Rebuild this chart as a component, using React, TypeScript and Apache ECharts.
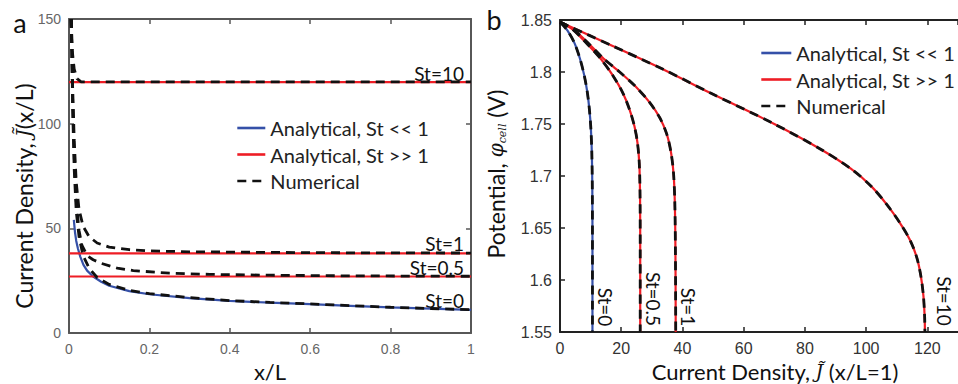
import React, { useEffect, useRef } from "react";
import * as echarts from "echarts";

// ---------- Legend ----------
const NAME_BLUE = "Analytical, St << 1";
const NAME_RED = "Analytical, St >> 1";
const NAME_NUM = "Numerical";

// ---------- Panel a : J(x/L) vs x/L ----------
const A_ST10_RED: number[][] = [[0, 119.8], [1, 119.8]];
const A_ST1_RED: number[][] = [[0, 38], [1, 38]];
const A_ST05_RED: number[][] = [[0, 27], [1, 27]];
const A_ST0_BLUE: number[][] = [
  [0.012, 54], [0.015, 48], [0.018, 44], [0.022, 40.5], [0.028, 36.5], [0.036, 32.5],
  [0.045, 29.8], [0.06, 27], [0.08, 24.5], [0.1, 22.6], [0.15, 20], [0.2, 18.5],
  [0.3, 16.7], [0.4, 15.3], [0.5, 14.5], [0.6, 13.8], [0.7, 13], [0.8, 12.2],
  [0.9, 11.6], [1, 11],
];
const A_ST10_NUM: number[][] = [
  [0.004, 150], [0.008, 135], [0.013, 126], [0.02, 121.5], [0.03, 120], [1, 120],
];
const A_ST1_NUM: number[][] = [
  [0.006, 150], [0.009, 118], [0.013, 92], [0.018, 72], [0.025, 59], [0.035, 51],
  [0.05, 46], [0.07, 43], [0.1, 41], [0.15, 39.8], [0.2, 39.2], [0.3, 38.8],
  [0.5, 38.5], [0.7, 38.3], [1, 38.2],
];
const A_ST05_NUM: number[][] = [
  [0.006, 150], [0.009, 112], [0.013, 84], [0.018, 63], [0.025, 49], [0.032, 42],
  [0.045, 37], [0.06, 35], [0.08, 33.3], [0.12, 31], [0.16, 29.8], [0.25, 28.6],
  [0.35, 28], [0.5, 27.6], [0.7, 27.3], [1, 27.1],
];
const A_ST0_NUM: number[][] = [
  [0.006, 150], [0.009, 108], [0.013, 78], [0.018, 58], [0.025, 46], [0.035, 37],
  [0.05, 31], [0.07, 26.5], [0.1, 23.2], [0.15, 20.4], [0.2, 18.8], [0.3, 16.9],
  [0.4, 15.5], [0.5, 14.6], [0.6, 13.9], [0.7, 13.1], [0.8, 12.3], [0.9, 11.7], [1, 11.1],
];

// ---------- Panel b : potential vs J(x/L=1) ----------
const B_ST0_BLUE: number[][] = [
  [0, 1.848], [2.4, 1.84], [4.7, 1.828], [6.5, 1.813], [7.9, 1.797], [8.9, 1.781],
  [9.6, 1.764], [10.1, 1.745], [10.4, 1.722], [10.55, 1.69], [10.6, 1.64], [10.6, 1.55],
];
const B_ST05_RED: number[][] = [
  [0, 1.848], [3.7, 1.842], [8.9, 1.827], [13.5, 1.812], [17.4, 1.796], [20.5, 1.78],
  [22.7, 1.764], [24.3, 1.748], [25.3, 1.732], [25.9, 1.712], [26.15, 1.68], [26.2, 1.63], [26.2, 1.55],
];
const B_ST1_RED: number[][] = [
  [0, 1.848], [4.7, 1.84], [9.5, 1.827], [14.2, 1.813], [19.5, 1.8], [24.7, 1.786],
  [29.2, 1.771], [32.6, 1.756], [34.9, 1.74], [36.3, 1.722], [37.1, 1.702], [37.5, 1.675],
  [37.7, 1.63], [37.8, 1.55],
];
const B_ST10_RED: number[][] = [
  [0, 1.848], [17.2, 1.825], [34.1, 1.802], [49, 1.78], [70, 1.75], [85, 1.726],
  [95, 1.707], [101.7, 1.69], [106.9, 1.672], [111, 1.655], [114.4, 1.638],
  [116.5, 1.622], [117.8, 1.605], [118.7, 1.585], [119.1, 1.565], [119.2, 1.55],
];
const B_ST0_NUM = B_ST0_BLUE;
const B_ST05_NUM = B_ST05_RED;
const B_ST1_NUM = B_ST1_RED;
const B_ST10_NUM = B_ST10_RED;

const BLUE = "#3550a8";
const RED = "#ee1d25";
const BLACK = "#111111";
const TXT_FONT = "Lato";
const TICK_FONT = "Liberation Sans";

export default function App() {
  const ref = useRef<HTMLDivElement>(null);

  useEffect(() => {
    if (!ref.current) return;
    const chart = echarts.init(ref.current, undefined, { renderer: "svg" });

    const lineS = (name: string, data: number[][], color: string, xi: number, yi: number, z: number, dashed = false, smooth: number | boolean = false) => ({
      type: "line",
      name,
      data,
      xAxisIndex: xi,
      yAxisIndex: yi,
      symbol: "none",
      showSymbol: false,
      silent: true,
      smooth,
      z,
      clip: true,
      lineStyle: dashed
        ? { color, width: 2.8, type: [9, 6] }
        : { color, width: 2.2 },
      itemStyle: { color },
    });

    const axisCommon = (color: string) => ({
      axisLine: { show: true, onZero: false, lineStyle: { color, width: 2 } },
      axisTick: { show: true, inside: true, length: 5, lineStyle: { color, width: 1.5 } },
      splitLine: { show: false },
    });

    const fmt2 = (v: number) => String(Math.round(v * 100) / 100);

    const legendCommon = {
      orient: "vertical",
      padding: 0,
      itemWidth: 28,
      itemHeight: 20,
      itemGap: 6.5,
      selectedMode: false,
      data: [NAME_BLUE, NAME_RED, NAME_NUM],
      itemStyle: { opacity: 0, borderWidth: 0 },
      lineStyle: { width: 2.6 },
      textStyle: { fontSize: 20, fontFamily: TXT_FONT, color: "#222", lineHeight: 20 },
    };

    const option: any = {
      animation: false,
      backgroundColor: "#ffffff",
      grid: [
        { left: 69, top: 19, width: 402, height: 314 },
        { left: 560, top: 20, width: 411, height: 312 },
      ],
      xAxis: [
        {
          type: "value", gridIndex: 0, min: 0, max: 1, interval: 0.2, position: "bottom",
          ...axisCommon("#575757"),
          axisLabel: { color: "#666", fontSize: 14, fontFamily: TICK_FONT, margin: 9, formatter: (v: number) => fmt2(v) },
        },
        {
          type: "value", gridIndex: 0, min: 0, max: 1, interval: 0.2, position: "top",
          ...axisCommon("#575757"),
          axisLabel: { show: false },
        },
        {
          type: "value", gridIndex: 1, min: 0, max: 130, interval: 20, position: "bottom",
          ...axisCommon("#222"),
          axisLabel: { color: "#333", fontSize: 16, fontFamily: TICK_FONT, margin: 8, showMaxLabel: false },
        },
        {
          type: "value", gridIndex: 1, min: 0, max: 130, interval: 20, position: "top",
          ...axisCommon("#222"),
          axisLabel: { show: false },
        },
      ],
      yAxis: [
        {
          type: "value", gridIndex: 0, min: 0, max: 150, interval: 50, position: "left",
          ...axisCommon("#575757"),
          axisLabel: { color: "#666", fontSize: 14, fontFamily: TICK_FONT, margin: 8 },
        },
        {
          type: "value", gridIndex: 0, min: 0, max: 150, interval: 50, position: "right",
          ...axisCommon("#575757"),
          axisLabel: { show: false },
        },
        {
          type: "value", gridIndex: 1, min: 1.55, max: 1.85, interval: 0.05, position: "left",
          ...axisCommon("#222"),
          axisLabel: { color: "#333", fontSize: 16, fontFamily: TICK_FONT, margin: 8, formatter: (v: number) => fmt2(v) },
        },
      ],
      legend: [
        { ...legendCommon, left: 236, top: 118 },
        { ...legendCommon, left: 760, top: 43, itemWidth: 30 },
      ],
      series: [
        lineS(NAME_BLUE, A_ST0_BLUE, BLUE, 0, 0, 2),
        lineS(NAME_RED, A_ST10_RED, RED, 0, 0, 2),
        lineS(NAME_RED, A_ST1_RED, RED, 0, 0, 2),
        lineS(NAME_RED, A_ST05_RED, RED, 0, 0, 2),
        lineS(NAME_NUM, A_ST10_NUM, BLACK, 0, 0, 3, true),
        lineS(NAME_NUM, A_ST1_NUM, BLACK, 0, 0, 3, true),
        lineS(NAME_NUM, A_ST05_NUM, BLACK, 0, 0, 3, true),
        lineS(NAME_NUM, A_ST0_NUM, BLACK, 0, 0, 3, true),
        lineS(NAME_BLUE, B_ST0_BLUE, BLUE, 2, 2, 2, false, 0.3),
        lineS(NAME_RED, B_ST05_RED, RED, 2, 2, 2, false, 0.3),
        lineS(NAME_RED, B_ST1_RED, RED, 2, 2, 2, false, 0.3),
        lineS(NAME_RED, B_ST10_RED, RED, 2, 2, 2, false, 0.3),
        lineS(NAME_NUM, B_ST0_NUM, BLACK, 2, 2, 3, true, 0.3),
        lineS(NAME_NUM, B_ST05_NUM, BLACK, 2, 2, 3, true, 0.3),
        lineS(NAME_NUM, B_ST1_NUM, BLACK, 2, 2, 3, true, 0.3),
        lineS(NAME_NUM, B_ST10_NUM, BLACK, 2, 2, 3, true, 0.3),
      ],
      graphic: [
        // panel letters
        { type: "text", x: 20, y: 22, style: { text: "a", font: `27px ${TXT_FONT}`, fill: "#111", align: "center", verticalAlign: "middle" } },
        { type: "text", x: 494, y: 19, style: { text: "b", font: `27px ${TXT_FONT}`, fill: "#111", align: "center", verticalAlign: "middle" } },
        // axis titles
        { type: "text", x: 270, y: 371, style: { text: "x/L", font: `22px ${TXT_FONT}`, fill: "#111", align: "center", verticalAlign: "middle" } },
        {
          type: "text", x: 24, y: 196, rotation: Math.PI / 2,
          style: {
            text: "Current Density, {j|J̃}(x/L)", font: `23px ${TXT_FONT}`, fill: "#111", align: "center", verticalAlign: "middle",
            rich: { j: { fontFamily: "DejaVu Serif", fontStyle: "italic", fontSize: 20, fill: "#111" } },
          },
        },
        {
          type: "text", x: 775, y: 371,
          style: {
            text: "Current Density, {j|J̃} (x/L=1)", font: `22px ${TXT_FONT}`, fill: "#111", align: "center", verticalAlign: "middle",
            rich: { j: { fontFamily: "DejaVu Serif", fontStyle: "italic", fontSize: 19, fill: "#111" } },
          },
        },
        {
          type: "text", x: 496, y: 174, rotation: Math.PI / 2,
          style: {
            text: "Potential, {phi|φ}{sub|cell} (V)", font: `23px ${TXT_FONT}`, fill: "#111", align: "center", verticalAlign: "middle",
            rich: {
              phi: { fontFamily: "DejaVu Serif", fontStyle: "italic", fontSize: 20, fill: "#111" },
              sub: { fontFamily: "DejaVu Serif", fontStyle: "italic", fontSize: 11, fill: "#111", verticalAlign: "bottom", padding: [8, 0, 0, 0] },
            },
          },
        },
        // panel a annotations
        { type: "text", x: 464, y: 73, style: { text: "St=10", font: `19px ${TXT_FONT}`, fill: "#111", align: "right", verticalAlign: "middle" } },
        { type: "text", x: 464, y: 243, style: { text: "St=1", font: `19px ${TXT_FONT}`, fill: "#111", align: "right", verticalAlign: "middle" } },
        { type: "text", x: 464, y: 267, style: { text: "St=0.5", font: `19px ${TXT_FONT}`, fill: "#111", align: "right", verticalAlign: "middle" } },
        { type: "text", x: 464, y: 300, style: { text: "St=0", font: `19px ${TXT_FONT}`, fill: "#111", align: "right", verticalAlign: "middle" } },
        // panel b annotations (rotated, reading downward)
        { type: "text", x: 605, y: 307, rotation: -Math.PI / 2, style: { text: "St=0", font: `19px ${TXT_FONT}`, fill: "#111", align: "center", verticalAlign: "middle" } },
        { type: "text", x: 653, y: 299, rotation: -Math.PI / 2, style: { text: "St=0.5", font: `19px ${TXT_FONT}`, fill: "#111", align: "center", verticalAlign: "middle" } },
        { type: "text", x: 688, y: 307, rotation: -Math.PI / 2, style: { text: "St=1", font: `19px ${TXT_FONT}`, fill: "#111", align: "center", verticalAlign: "middle" } },
        { type: "text", x: 944, y: 301, rotation: -Math.PI / 2, style: { text: "St=10", font: `19px ${TXT_FONT}`, fill: "#111", align: "center", verticalAlign: "middle" } },
      ],
    };

    chart.setOption(option);
    return () => chart.dispose();
  }, []);

  return (
    <div
      ref={ref}
      style={{ position: "absolute", left: 0, top: 0, width: 958, height: 384, overflow: "hidden", background: "#fff" }}
    />
  );
}
